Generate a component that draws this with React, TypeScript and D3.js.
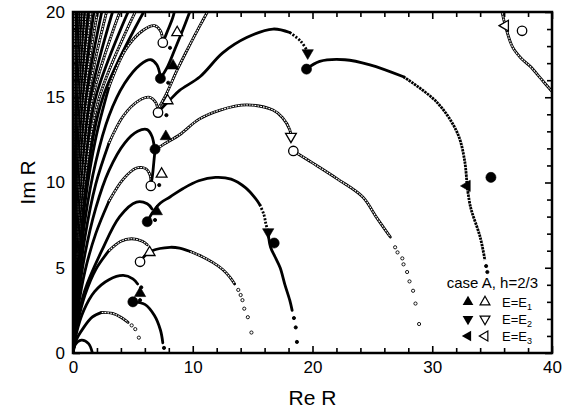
import React, { useRef, useEffect } from 'react'
import * as d3 from 'd3'

type Pt = [number, number]

// trajectories (Re R, Im R)
const arcSmall: Pt[] = [[0, 0], [0.15, 0.45], [0.7, 0.75], [1.3, 0.55], [1.6, 0.05]]
const arcB1a: Pt[] = [[0, 0], [0.3, 0.8], [0.8, 1.4], [1.6, 2.1], [2.4, 2.38]]
const arcB1b: Pt[] = [[2.4, 2.38], [3.3, 2.32], [4.0, 2.1], [4.6, 1.8]]
const dotsB1: Pt[] = [[4.9, 1.62], [5.2, 1.4], [5.5, 0.9]]
const arcA2: Pt[] = [[0, 0], [0.3, 1.2], [0.9, 2.5], [1.8, 3.6], [3.0, 4.3], [4.2, 4.55], [5.0, 4.35], [5.4, 4.05]]
const branchA2: Pt[] = [[5.0, 3.0], [6.0, 2.85], [6.8, 2.2], [7.3, 1.35], [7.5, 0.6]]
const dotsA2: Pt[] = [[5.7, 3.85], [7.6, 0.3]]
const arcB2a: Pt[] = [[0, 0], [0.4, 1.8], [1.0, 3.4], [1.9, 4.9], [3.0, 6.0]]
const arcB2b: Pt[] = [[3.0, 6.0], [4.0, 6.55], [4.9, 6.7], [5.8, 6.55], [6.2, 6.35]]
const branchB2a: Pt[] = [[5.6, 5.35], [6.0, 5.7], [6.6, 6.0], [8.1, 6.2], [8.9, 6.15], [9.8, 5.95]]
const branchB2b: Pt[] = [[9.8, 5.95], [10.8, 5.65], [11.7, 5.3], [12.5, 4.9], [13.1, 4.45], [13.5, 4.05]]
const dotsB2: Pt[] = [[13.8, 3.7], [14.0, 3.4], [14.15, 3.1], [14.3, 2.6], [14.6, 2.1], [14.9, 1.2]]
const arcA3: Pt[] = [[0, 0], [0.4, 2], [1.0, 3.7], [2.4, 6], [3.9, 8], [5.3, 8.85], [6.2, 8.75], [6.6, 8.45]]
const branchA3a: Pt[] = [[6.2, 7.7], [6.7, 8.3], [7.3, 8.8], [8.1, 9.15], [9.2, 9.65], [10.5, 10.1], [11.9, 10.3], [13.2, 10.2], [14.4, 9.7], [15.2, 9.1], [15.6, 8.7]]
const branchA3b: Pt[] = [[15.6, 8.7], [15.95, 8.1], [16.1, 7.6], [16.25, 7.2]]
const branchA3c: Pt[] = [[16.3, 7.0], [16.5, 6.2], [16.9, 5.6], [17.3, 5.0], [17.7, 4.0], [18.1, 3.1], [18.3, 2.5]]
const dotsA3: Pt[] = [[18.45, 2.05], [18.6, 1.5], [18.7, 0.65]]
const arcB3a: Pt[] = [[0, 0], [0.4, 2.5], [1.0, 4.8], [1.9, 7.0], [3.0, 8.9]]
const arcB3b: Pt[] = [[3.0, 8.9], [4.2, 10.2], [5.3, 10.85], [6.1, 10.8], [6.45, 10.4], [6.5, 10.0]]
const linkB3: Pt[] = [[6.5, 9.8], [6.65, 10.5], [6.75, 11.2], [6.85, 11.9]]
const arcA4: Pt[] = [[0, 0], [0.4, 3], [1.0, 5.8], [1.9, 8.5], [3.0, 10.7], [4.3, 12.3], [5.4, 13.0], [6.2, 13.1], [6.6, 12.7], [6.8, 12.0]]
const branchB3a: Pt[] = [[6.85, 11.9], [7.6, 12.25], [8.9, 12.8], [10.5, 13.7], [12.3, 14.25], [14.5, 14.55], [16.7, 14.25], [17.5, 13.8], [18.1, 13.1], [18.25, 12.6]]
const branchB3b: Pt[] = [[18.4, 11.85], [20.0, 11.15], [22.1, 10.2], [24.2, 9.15], [25.3, 8.0], [26.5, 6.8]]
const dotsB3: Pt[] = [[26.9, 6.2], [27.1, 5.9], [27.5, 5.55], [27.6, 5.2], [27.9, 4.75], [28.1, 4.2], [28.4, 3.65], [28.6, 2.9], [28.9, 1.7]]
const arcB4a: Pt[] = [[0, 0], [0.4, 3.5], [1.0, 6.8], [1.9, 9.9], [3.0, 12.3]]
const arcB4b: Pt[] = [[3.0, 12.3], [4.2, 13.9], [5.5, 14.8], [6.4, 15.0], [6.9, 14.7], [7.1, 14.2]]
const branchA4a: Pt[] = [[7.1, 14.1], [7.6, 14.5], [8.1, 14.85], [8.9, 15.4], [10.6, 16.2], [12.5, 17.6], [14.5, 18.5], [16.7, 19.0], [18.1, 18.8]]
const branchA4b: Pt[] = [[18.1, 18.8], [19.0, 18.3], [19.5, 17.8]]
const branchA4c: Pt[] = [[19.5, 16.65], [20.6, 17.1], [22.7, 17.2], [24.8, 16.9], [27.6, 16.2]]
const branchA4d: Pt[] = [[27.6, 16.2], [30.4, 14.7], [32.1, 12.9], [32.7, 11.3], [32.9, 9.85]]
const branchA4e: Pt[] = [[32.9, 9.85], [33.2, 8.55], [34.0, 6.8], [34.4, 5.45]]
const dotsA4: Pt[] = [[34.5, 5.1], [34.6, 4.75]]
const sideB4: Pt[] = [[7.1, 14.3], [7.8, 15.2], [8.7, 16.6], [9.7, 18.0], [10.6, 19.2], [11.3, 20.1]]
const arcA5: Pt[] = [[0, 0], [0.4, 4], [1.0, 7.8], [1.9, 11.2], [3.0, 13.9], [4.3, 15.8], [5.6, 16.9], [6.5, 17.2], [7.0, 16.9], [7.3, 16.2]]
const branchA5: Pt[] = [[7.3, 16.1], [7.9, 16.8], [8.5, 17.8], [9.2, 19.0], [9.8, 20.1]]
const arcB5a: Pt[] = [[0, 0], [0.4, 4.5], [1.0, 8.8], [1.9, 12.6], [3.0, 15.6]]
const arcB5b: Pt[] = [[3.0, 15.6], [4.4, 17.8], [5.8, 18.9], [6.8, 19.2], [7.3, 18.9], [7.5, 18.3]]
const branchB5: Pt[] = [[7.5, 18.2], [7.9, 18.9], [8.3, 19.6], [8.5, 20.1]]
const cornerB: Pt[] = [[35.8, 20.1], [36.1, 19.2], [36.7, 17.95], [37.4, 17.3], [38.2, 16.8], [39.0, 16.15], [39.8, 15.5], [40.2, 15.2]]
const extraDots: Pt[] = [[8.1, 17.9], [7.95, 15.85], [7.8, 13.95], [7.2, 9.85], [6.85, 7.8], [5.6, 3.1]]

// fan of trajectories near the imaginary axis: Re R at Im R = 5, 10, 15, 20
const fanRe: number[][] = [
  [0.38, 1.1, 2.5, 5.9], [0.33, 0.95, 2.2, 5.2], [0.29, 0.85, 1.9, 4.6], [0.25, 0.75, 1.65, 3.9],
  [0.22, 0.65, 1.45, 3.3], [0.19, 0.56, 1.25, 2.8], [0.16, 0.48, 1.08, 2.4], [0.14, 0.42, 0.93, 2.05],
  [0.12, 0.36, 0.8, 1.75], [0.1, 0.31, 0.69, 1.5], [0.09, 0.27, 0.6, 1.28], [0.08, 0.23, 0.52, 1.1],
  [0.07, 0.2, 0.45, 0.95], [0.06, 0.17, 0.39, 0.82], [0.05, 0.15, 0.33, 0.7], [0.045, 0.13, 0.28, 0.6],
  [0.04, 0.11, 0.24, 0.5], [0.035, 0.095, 0.2, 0.42], [0.03, 0.08, 0.17, 0.35], [0.025, 0.07, 0.14, 0.29],
  [0.02, 0.06, 0.12, 0.24], [0.015, 0.05, 0.1, 0.19], [0.01, 0.04, 0.08, 0.15], [0.01, 0.03, 0.06, 0.1],
]
const fanIm = [5, 10, 15, 20]

const filledCircles: Pt[] = [[5.0, 3.0], [6.2, 7.7], [16.8, 6.45], [6.85, 11.95], [7.3, 16.1], [19.5, 16.65], [34.9, 10.3]]
const openCircles: Pt[] = [[5.6, 5.35], [6.5, 9.8], [18.4, 11.85], [7.1, 14.1], [7.5, 18.2], [37.5, 18.9]]
const filledUp: Pt[] = [[5.6, 3.5], [7.0, 8.3], [7.75, 12.7], [8.35, 16.85]]
const openUp: Pt[] = [[6.4, 5.9], [7.4, 10.5], [7.9, 14.8], [8.7, 18.8]]
const filledDown: Pt[] = [[16.3, 7.1], [19.6, 17.6]]
const openDown: Pt[] = [[18.2, 12.7]]
const filledLeft: Pt[] = [[32.9, 9.8]]
const openLeft: Pt[] = [[36.1, 19.2]]

const xMajor = [0, 10, 20, 30, 40]
const xMinor = [2, 4, 6, 8, 12, 14, 16, 18, 22, 24, 26, 28, 32, 34, 36, 38]
const yMajor = [0, 5, 10, 15, 20]
const yMinor = [1, 2, 3, 4, 6, 7, 8, 9, 11, 12, 13, 14, 16, 17, 18, 19]
const legendRows = ['1', '2', '3']

const FONT = '"Liberation Sans", Arial, Helvetica, sans-serif'

const App = () => {
  const ref = useRef<SVGSVGElement>(null)

  function drawChart() {
    const svg = d3.select(ref.current)
    svg.selectAll('*').remove()

    const x = d3.scaleLinear().domain([0, 40]).range([73, 552])
    const y = d3.scaleLinear().domain([0, 20]).range([353, 12])

    svg.append('defs').append('clipPath').attr('id', 'plotclip')
      .append('rect')
      .attr('x', x(0)).attr('y', y(20))
      .attr('width', x(40) - x(0)).attr('height', y(0) - y(20))

    const g = svg.append('g').attr('clip-path', 'url(#plotclip)')
    const line = d3.line<Pt>()
      .x(d => x(d[0]))
      .y(d => y(d[1]))
      .curve(d3.curveCatmullRom.alpha(0.5))

    const solid = (pts: Pt[], dash?: string) => {
      const p = g.append('path').datum(pts)
        .attr('d', line)
        .attr('fill', 'none')
        .attr('stroke', '#000')
        .attr('stroke-width', 2.8)
        .attr('stroke-linecap', dash ? 'butt' : 'round')
      if (dash) p.attr('stroke-dasharray', dash)
    }
    const open = (pts: Pt[]) => {
      solid(pts)
      g.append('path').datum(pts)
        .attr('d', line)
        .attr('fill', 'none')
        .attr('stroke', '#fff')
        .attr('stroke-width', 1.1)
        .attr('stroke-dasharray', '1.8,1')
    }
    const dots = (pts: Pt[], filled: boolean) => {
      g.append('g').selectAll('circle').data(pts).enter().append('circle')
        .attr('cx', d => x(d[0]))
        .attr('cy', d => y(d[1]))
        .attr('r', 1.6)
        .attr('fill', filled ? '#000' : '#fff')
        .attr('stroke', '#000')
        .attr('stroke-width', 0.9)
    }

    // fan near the axis
    fanRe.forEach((row, i) => {
      const pts: Pt[] = [[0, 0], ...row.map((r, j) => [r, fanIm[j]] as Pt)]
      if (i % 2 === 0) solid(pts)
      else open(pts)
    })

    solid(arcSmall)
    solid(arcB1a); open(arcB1b); dots(dotsB1, false)
    solid(arcA2); solid(branchA2); dots(dotsA2, true)
    solid(arcB2a); open(arcB2b)
    solid(branchB2a); open(branchB2b); dots(dotsB2, false)
    solid(arcA3); solid(branchA3a); solid(branchA3b, '2,1.6'); solid(branchA3c); dots(dotsA3, true)
    solid(arcB3a); open(arcB3b); solid(linkB3)
    solid(arcA4)
    open(branchB3a); open(branchB3b); dots(dotsB3, false)
    solid(arcB4a); open(arcB4b)
    open(sideB4)
    solid(branchA4a); solid(branchA4b, '2,1.6'); solid(branchA4c); solid(branchA4d, '2.4,0.8'); solid(branchA4e, '2.4,0.8'); dots(dotsA4, true)
    solid(arcA5); solid(branchA5)
    solid(arcB5a); open(arcB5b); solid(branchB5)
    open(cornerB)
    dots(extraDots, true)

    // markers
    const marker = (pts: Pt[], type: d3.SymbolType, size: number, filled: boolean, rot: number) => {
      g.append('g').selectAll('path').data(pts).enter().append('path')
        .attr('d', d3.symbol().type(type).size(size)())
        .attr('transform', d => `translate(${x(d[0])},${y(d[1])}) rotate(${rot})`)
        .attr('fill', filled ? '#000' : '#fff')
        .attr('stroke', '#000')
        .attr('stroke-width', filled ? 0.6 : 1.3)
    }
    marker(filledCircles, d3.symbolCircle, 80, true, 0)
    marker(openCircles, d3.symbolCircle, 70, false, 0)
    marker(filledUp, d3.symbolTriangle, 55, true, 0)
    marker(openUp, d3.symbolTriangle, 50, false, 0)
    marker(filledDown, d3.symbolTriangle, 55, true, 180)
    marker(openDown, d3.symbolTriangle, 50, false, 180)
    marker(filledLeft, d3.symbolTriangle, 55, true, -90)
    marker(openLeft, d3.symbolTriangle, 50, false, -90)

    // frame and ticks
    const axes = svg.append('g')
    const tickAxis = (axis: d3.Axis<d3.NumberValue>, tx: number, ty: number, labels: boolean) => {
      const a = axes.append('g').attr('transform', `translate(${tx},${ty})`).call(axis)
      a.select('.domain').remove()
      a.selectAll('line').attr('stroke', '#000').attr('stroke-width', 1.6)
      if (!labels) a.selectAll('text').remove()
      else a.selectAll('text').attr('font-size', 17).attr('font-family', FONT).attr('fill', '#000')
      return a
    }
    tickAxis(d3.axisBottom(x).tickValues(xMajor).tickSizeInner(-7).tickSizeOuter(0).tickPadding(8), 0, y(0), true)
    tickAxis(d3.axisBottom(x).tickValues(xMinor).tickSizeInner(-5).tickSizeOuter(0), 0, y(0), false)
    tickAxis(d3.axisTop(x).tickValues(xMajor).tickSizeInner(-7).tickSizeOuter(0), 0, y(20), false)
    tickAxis(d3.axisTop(x).tickValues(xMinor).tickSizeInner(-5).tickSizeOuter(0), 0, y(20), false)
    tickAxis(d3.axisLeft(y).tickValues(yMajor).tickSizeInner(-7).tickSizeOuter(0).tickPadding(8), x(0), 0, true)
    tickAxis(d3.axisLeft(y).tickValues(yMinor).tickSizeInner(-5).tickSizeOuter(0), x(0), 0, false)
    tickAxis(d3.axisRight(y).tickValues(yMajor).tickSizeInner(-7).tickSizeOuter(0), x(40), 0, false)
    tickAxis(d3.axisRight(y).tickValues(yMinor).tickSizeInner(-5).tickSizeOuter(0), x(40), 0, false)

    axes.append('rect')
      .attr('x', x(0)).attr('y', y(20))
      .attr('width', x(40) - x(0)).attr('height', y(0) - y(20))
      .attr('fill', 'none').attr('stroke', '#000').attr('stroke-width', 2.5)

    axes.append('text')
      .attr('x', x(20)).attr('y', 405)
      .attr('text-anchor', 'middle')
      .attr('font-family', FONT).attr('font-size', 21)
      .text('Re R')
    axes.append('text')
      .attr('transform', `translate(35,${y(10)}) rotate(-90)`)
      .attr('text-anchor', 'middle')
      .attr('font-family', FONT).attr('font-size', 21)
      .text('Im R')

    // legend
    const lg = svg.append('g').attr('font-family', FONT)
    lg.append('text').attr('x', 538).attr('y', 288)
      .attr('text-anchor', 'end').attr('font-size', 15)
      .text('case A, h=2/3')
    const rots = [0, 180, -90]
    legendRows.forEach((sub, i) => {
      const cy = 302 + i * 17
      lg.append('path').attr('d', d3.symbol().type(d3.symbolTriangle).size(50)())
        .attr('transform', `translate(468,${cy}) rotate(${rots[i]})`)
        .attr('fill', '#000')
      lg.append('path').attr('d', d3.symbol().type(d3.symbolTriangle).size(42)())
        .attr('transform', `translate(485,${cy}) rotate(${rots[i]})`)
        .attr('fill', '#fff').attr('stroke', '#000').attr('stroke-width', 1.2)
      const t = lg.append('text').attr('x', 502).attr('y', cy + 5).attr('font-size', 13)
      t.append('tspan').text('E=E')
      t.append('tspan').attr('font-size', 9).attr('dy', 3).text(sub)
    })
  }

  useEffect(() => {
    drawChart()
  }, [])

  return (
    <svg ref={ref} width={569} height={415}
      style={{ position: 'absolute', left: 0, top: 0, background: '#fff' }} />
  )
}

export default App
